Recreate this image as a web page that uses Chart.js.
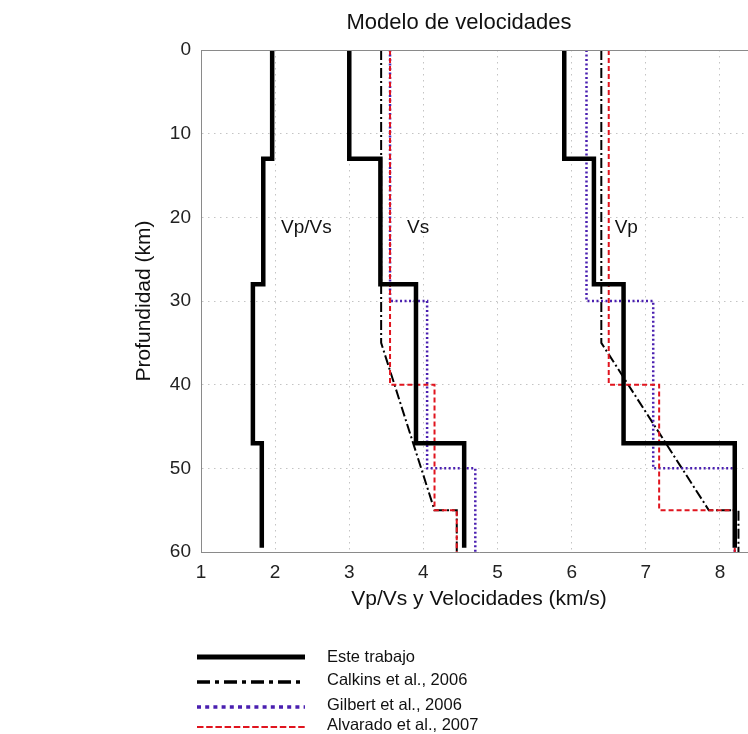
<!DOCTYPE html>
<html>
<head>
<meta charset="utf-8">
<title>Modelo de velocidades</title>
<script src="https://cdn.jsdelivr.net/npm/chart.js@4"></script>
<style>
html, body { margin: 0; padding: 0; overflow: hidden; background: #fff; }
#wrap { width: 760px; height: 734px; }
</style>
</head>
<body>
<div id="wrap"><canvas id="myChart" width="760" height="734"></canvas></div>
<script>
// velocity models: layer tops (km) and values per layer
const chartTitle = 'Modelo de velocidades'
const bottomDepth = 60
const esteBottom = 59.5

const esteTops = [0, 13, 28, 47]
const esteVpVs = [1.96, 1.84, 1.70, 1.82]
const esteVs = [3.0, 3.42, 3.9, 4.55]
const esteVp = [5.9, 6.3, 6.7, 8.2]

// Calkins is given as points (depth, value), it has a gradient
const calkinsDepth = [0, 35, 55, 55, 60]
const calkinsVs = [3.43, 3.43, 4.15, 4.45, 4.45]
const calkinsVp = [6.4, 6.4, 7.85, 8.25, 8.25]

const gilbertTops = [0, 30, 50]
const gilbertVs = [3.55, 4.05, 4.7]
const gilbertVp = [6.2, 7.1, 8.2]

const alvaradoTops = [0, 40, 55]
const alvaradoVs = [3.55, 4.15, 4.45]
const alvaradoVp = [6.5, 7.18, 8.2]

const xTicks = [1, 2, 3, 4, 5, 6, 7, 8]
const yTicks = [0, 10, 20, 30, 40, 50, 60]
const profileNames = ['Vp/Vs', 'Vs', 'Vp']
const legendNames = ['Este trabajo', 'Calkins et al., 2006', 'Gilbert et al., 2006', 'Alvarado et al., 2007']

const ctx = document.getElementById('myChart').getContext('2d')
const FONT = '"Liberation Sans", Arial, Helvetica, sans-serif'

// turn a layered model into step points
function layered(tops, vals, bottom) {
  const pts = []
  tops.forEach(function (t, i) {
    const b = i + 1 < tops.length ? tops[i + 1] : bottom
    pts.push({x: vals[i], y: t}, {x: vals[i], y: b})
  })
  return pts
}
function paired(depths, vals) {
  return depths.map(function (d, i) { return {x: vals[i], y: d} })
}

// lower order is drawn on top
const styles = [
  {borderColor: '#000000', borderWidth: 4.5, borderDash: [], order: 0},
  {borderColor: '#000000', borderWidth: 2, borderDash: [10, 3, 2, 3], order: 3},
  {borderColor: '#4a1fb0', borderWidth: 2.5, borderDash: [2, 2.5], order: 2},
  {borderColor: '#e0141e', borderWidth: 2, borderDash: [5, 3], order: 1}
]

function ds(author, pts) {
  const s = styles[author]
  return {
    label: legendNames[author],
    data: pts,
    showLine: true,
    fill: false,
    pointRadius: 0,
    tension: 0,
    borderColor: s.borderColor,
    borderWidth: s.borderWidth,
    borderDash: s.borderDash,
    borderCapStyle: 'butt',
    borderJoinStyle: 'miter',
    order: s.order
  }
}

const datasets = [
  ds(0, layered(esteTops, esteVpVs, esteBottom)),
  ds(0, layered(esteTops, esteVs, esteBottom)),
  ds(0, layered(esteTops, esteVp, esteBottom)),
  ds(1, paired(calkinsDepth, calkinsVs)),
  ds(1, paired(calkinsDepth, calkinsVp)),
  ds(2, layered(gilbertTops, gilbertVs, bottomDepth)),
  ds(2, layered(gilbertTops, gilbertVp, bottomDepth)),
  ds(3, layered(alvaradoTops, alvaradoVs, bottomDepth)),
  ds(3, layered(alvaradoTops, alvaradoVp, bottomDepth))
]

const extras = {
  id: 'extras',
  afterDraw(chart) {
    const c = chart.ctx
    const area = chart.chartArea
    const sx = chart.scales.x, sy = chart.scales.y
    c.save()
    // top frame
    c.strokeStyle = '#8a8a8a'
    c.lineWidth = 1
    c.setLineDash([])
    c.beginPath()
    c.moveTo(area.left, area.top + 0.5)
    c.lineTo(area.right, area.top + 0.5)
    c.stroke()
    // title
    c.fillStyle = '#111'
    c.font = '22px ' + FONT
    c.textAlign = 'center'
    c.textBaseline = 'middle'
    c.fillText(chartTitle, 459, 23)
    // profile names
    const nameX = [2.08, 3.78, 6.58]
    c.font = '19px ' + FONT
    c.textAlign = 'left'
    profileNames.forEach(function (t, i) {
      c.fillText(t, sx.getPixelForValue(nameX[i]), sy.getPixelForValue(21.3))
    })
    // legend
    const lineY = [657, 682, 707, 727]
    const textY = [657, 680, 705, 725]
    const legWidth = [5, 3.3, 3.5, 2]
    const legDash = [[], [13, 5, 4, 5], [4, 4.2], [6.5, 2.7]]
    c.font = '16.5px ' + FONT
    legendNames.forEach(function (name, i) {
      c.strokeStyle = styles[i].borderColor
      c.lineWidth = legWidth[i]
      c.setLineDash(legDash[i])
      c.beginPath()
      c.moveTo(197, lineY[i])
      c.lineTo(305, lineY[i])
      c.stroke()
      c.fillStyle = '#111'
      c.fillText(name, 327, textY[i])
    })
    c.restore()
  }
}

new Chart(ctx, {
  type: 'scatter',
  data: {datasets: datasets},
  options: {
    responsive: false,
    animation: false,
    events: [],
    layout: {padding: {left: 128, top: 50, right: 3, bottom: 120}},
    plugins: {
      legend: {display: false},
      title: {display: false},
      tooltip: {enabled: false}
    },
    scales: {
      x: {
        type: 'linear',
        position: 'bottom',
        min: 1,
        max: 8.5,
        afterBuildTicks: function (s) { s.ticks = xTicks.map(function (v) { return {value: v} }) },
        afterFit: function (s) { s.height = 62 },
        ticks: {font: {family: FONT, size: 19}, color: '#222', padding: 9, maxRotation: 0},
        grid: {color: '#c4c4c4', lineWidth: 1, drawTicks: false},
        border: {color: '#8a8a8a', width: 1, dash: [1.5, 4.5]},
        title: {display: true, text: 'Vp/Vs y Velocidades (km/s)', color: '#111',
                font: {family: FONT, size: 21}, padding: {top: 4, bottom: 2}}
      },
      y: {
        type: 'linear',
        reverse: true,
        min: 0,
        max: 60,
        afterBuildTicks: function (s) { s.ticks = yTicks.map(function (v) { return {value: v} }) },
        afterFit: function (s) { s.width = 73 },
        ticks: {font: {family: FONT, size: 19}, color: '#222', padding: 10},
        grid: {color: '#c4c4c4', lineWidth: 1, drawTicks: false},
        border: {color: '#8a8a8a', width: 1, dash: [1.5, 4.5]},
        title: {display: true, text: 'Profundidad (km)', color: '#111',
                font: {family: FONT, size: 21}, padding: {top: 4, bottom: 4}}
      }
    }
  },
  plugins: [extras]
})
</script>
</body>
</html>
